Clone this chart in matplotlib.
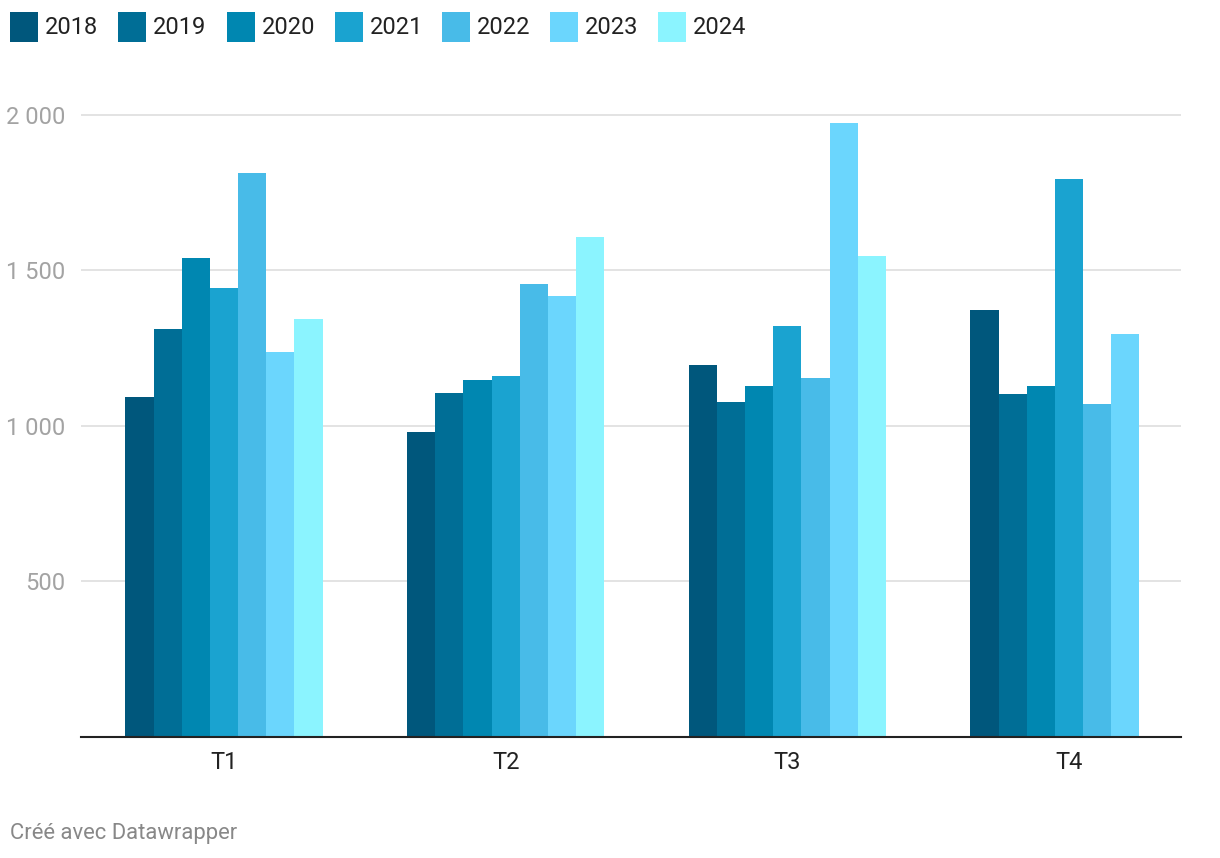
import matplotlib.pyplot as plt
import matplotlib.patches as mpatches
import numpy as np

plt.rcParams['font.family'] = ['Roboto', 'DejaVu Sans']

quarters = ['T1', 'T2', 'T3', 'T4']
years = ['2018', '2019', '2020', '2021', '2022', '2023', '2024']
colors = ['#00577c', '#006e96', '#0087b1', '#1aa3d0', '#48bbe8', '#6bd6fd', '#8bf4ff']

# values per year, one per quarter (T4 2024 missing)
v2018 = [1093, 981, 1196, 1373]
v2019 = [1312, 1106, 1077, 1103]
v2020 = [1540, 1148, 1129, 1129]
v2021 = [1444, 1161, 1322, 1794]
v2022 = [1813, 1457, 1154, 1071]
v2023 = [1238, 1418, 1974, 1296]
v2024 = [1344, 1608, 1547, np.nan]
series = [v2018, v2019, v2020, v2021, v2022, v2023, v2024]

W, H = 1220, 858
fig = plt.figure(figsize=(W / 100, H / 100), dpi=100)
ax = fig.add_axes([81 / W, 1 - 737 / H, (1181 - 81) / W, (737 - 100) / H])

x = np.arange(len(quarters))
bw = 0.1
for i, (vals, c) in enumerate(zip(series, colors)):
    ax.bar(x + (i - 3) * bw, vals, width=bw, color=c, linewidth=0, zorder=3)

ax.set_xlim(-0.508, 3.398)
ax.set_ylim(0, 2048)

for v in [500, 1000, 1500, 2000]:
    ax.axhline(v, color='#e3e3e3', linewidth=1.4, zorder=1)

ax.set_yticks([500, 1000, 1500, 2000])
ax.set_yticklabels(['500', '1 000', '1 500', '2 000'])
ax.tick_params(axis='y', length=0, pad=11, labelsize=17, labelcolor='#a3a3a3')
ax.set_xticks(x)
ax.set_xticklabels(quarters)
ax.tick_params(axis='x', length=0, pad=10, labelsize=17, labelcolor='#222222')

for s in ['top', 'right', 'left']:
    ax.spines[s].set_visible(False)
ax.spines['bottom'].set_color('#222222')
ax.spines['bottom'].set_linewidth(1.5)
ax.spines['bottom'].set_zorder(4)

# legend row at the top
lx = [10, 118, 227, 335, 442, 550, 658]
for px, yr, c in zip(lx, years, colors):
    fig.patches.append(mpatches.Rectangle((px / W, 1 - 42 / H), 28 / W, 30 / H,
                                          transform=fig.transFigure, color=c, linewidth=0))
    fig.text((px + 35) / W, 1 - 27 / H, yr, fontsize=17, color='#222222', va='center', ha='left')

fig.text(10 / W, 1 - 834 / H, 'Créé avec Datawrapper', fontsize=15.8, color='#888888',
         va='center', ha='left')

fig.savefig('out.png', dpi=100)
